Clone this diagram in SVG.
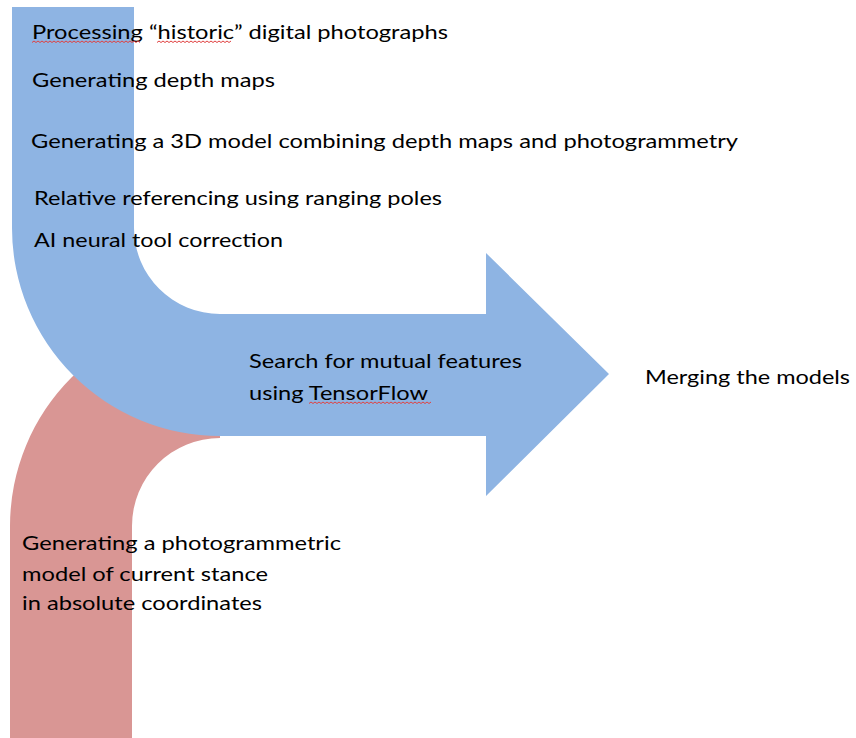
<svg xmlns="http://www.w3.org/2000/svg" width="856" height="738" viewBox="0 0 856 738">
  <style>
    .t { font-family: Lato, "Liberation Sans", sans-serif; font-size: 20px; fill: #000; }
    .sq { fill: none; stroke: #E04040; stroke-width: 1; }
  </style>
  <rect x="0" y="0" width="856" height="738" fill="#fff"/>
  <g id="connectors">
    <path id="red-flow" d="M10,738 L10,526 A210,210 0 0 1 220,316 L220,438 A88,88 0 0 0 132,526 L132,738 Z" fill="#D99694"/>
    <path id="blue-flow" d="M12,7 L134,7 L134,228 A86,86 0 0 0 220,314 L486,314 L486,253 L609,374 L486,496 L486,436 L220,436 A208,208 0 0 1 12,228 Z" fill="#8EB4E3"/>
  </g>
  <g id="node-historic">
    <text class="t" x="32" y="39" textLength="416" lengthAdjust="spacingAndGlyphs">Processing “historic” digital photographs</text>
    <path class="sq" d="M32,42.5 l2,-1.5 l2,1.5 l2,-1.5 l2,1.5 l2,-1.5 l2,1.5 l2,-1.5 l2,1.5 l2,-1.5 l2,1.5 l2,-1.5 l2,1.5 l2,-1.5 l2,1.5 l2,-1.5 l2,1.5 l2,-1.5 l2,1.5 l2,-1.5 l2,1.5 l2,-1.5 l2,1.5 l2,-1.5 l2,1.5 l2,-1.5 l2,1.5 l2,-1.5 l2,1.5 l2,-1.5 l2,1.5 l2,-1.5 l2,1.5 l2,-1.5 l2,1.5 l2,-1.5 l2,1.5 l2,-1.5 l2,1.5 l2,-1.5 l2,1.5 l2,-1.5 l2,1.5 l2,-1.5 l2,1.5 l2,-1.5 l2,1.5 l2,-1.5 l2,1.5 l2,-1.5 l2,1.5 l2,-1.5 l2,1.5 l2,-1.5 l2,1.5"/>
    <path class="sq" d="M157,42.5 l2,-1.5 l2,1.5 l2,-1.5 l2,1.5 l2,-1.5 l2,1.5 l2,-1.5 l2,1.5 l2,-1.5 l2,1.5 l2,-1.5 l2,1.5 l2,-1.5 l2,1.5 l2,-1.5 l2,1.5 l2,-1.5 l2,1.5 l2,-1.5 l2,1.5 l2,-1.5 l2,1.5 l2,-1.5 l2,1.5 l2,-1.5 l2,1.5 l2,-1.5 l2,1.5 l2,-1.5 l2,1.5 l2,-1.5 l2,1.5 l2,-1.5 l2,1.5 l2,-1.5 l2,1.5 l2,-1.5"/>
  </g>
  <g id="node-depth">
    <text class="t" x="32" y="87" textLength="243" lengthAdjust="spacingAndGlyphs">Generating depth maps</text>
  </g>
  <g id="node-3d">
    <text class="t" x="31" y="148" textLength="707" lengthAdjust="spacingAndGlyphs">Generating a 3D model combining depth maps and photogrammetry</text>
  </g>
  <g id="node-poles">
    <text class="t" x="34" y="205" textLength="408" lengthAdjust="spacingAndGlyphs">Relative referencing using ranging poles</text>
  </g>
  <g id="node-ai">
    <text class="t" x="34" y="247" textLength="249" lengthAdjust="spacingAndGlyphs">AI neural tool correction</text>
  </g>
  <g id="node-search">
    <text class="t" x="249" y="368" textLength="273" lengthAdjust="spacingAndGlyphs">Search for mutual features</text>
    <text class="t" x="249" y="400" textLength="179" lengthAdjust="spacingAndGlyphs">using TensorFlow</text>
    <path class="sq" d="M309,403.5 l2,-1.5 l2,1.5 l2,-1.5 l2,1.5 l2,-1.5 l2,1.5 l2,-1.5 l2,1.5 l2,-1.5 l2,1.5 l2,-1.5 l2,1.5 l2,-1.5 l2,1.5 l2,-1.5 l2,1.5 l2,-1.5 l2,1.5 l2,-1.5 l2,1.5 l2,-1.5 l2,1.5 l2,-1.5 l2,1.5 l2,-1.5 l2,1.5 l2,-1.5 l2,1.5 l2,-1.5 l2,1.5 l2,-1.5 l2,1.5 l2,-1.5 l2,1.5 l2,-1.5 l2,1.5 l2,-1.5 l2,1.5 l2,-1.5 l2,1.5 l2,-1.5 l2,1.5 l2,-1.5 l2,1.5 l2,-1.5 l2,1.5 l2,-1.5 l2,1.5 l2,-1.5 l2,1.5 l2,-1.5 l2,1.5 l2,-1.5 l2,1.5 l2,-1.5 l2,1.5 l2,-1.5 l2,1.5 l2,-1.5 l2,1.5 l2,-1.5"/>
  </g>
  <g id="node-merge">
    <text class="t" x="645" y="384" textLength="205" lengthAdjust="spacingAndGlyphs">Merging the models</text>
  </g>
  <g id="node-current">
    <text class="t" x="22" y="550" textLength="319" lengthAdjust="spacingAndGlyphs">Generating a photogrammetric</text>
    <text class="t" x="22" y="581" textLength="246" lengthAdjust="spacingAndGlyphs">model of current stance</text>
    <text class="t" x="22" y="610" textLength="240" lengthAdjust="spacingAndGlyphs">in absolute coordinates</text>
  </g>
</svg>
